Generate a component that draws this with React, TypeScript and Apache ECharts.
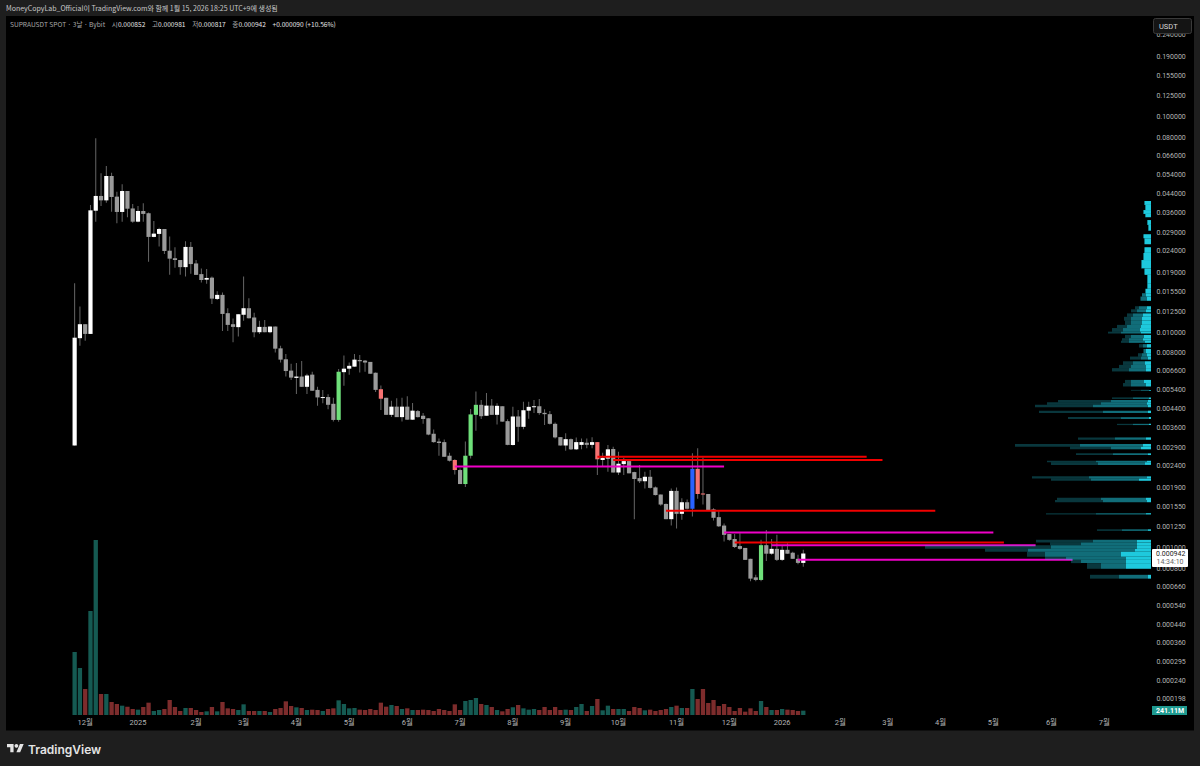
import * as echarts from "echarts"
import { type FC, useEffect, useRef } from "react"

const opens = [
  0.00299, 0.00942, 0.01094, 0.00986, 0.03682, 0.04312, 0.04113, 0.05339, 0.0428, 0.03633,
  0.04545, 0.03772, 0.03275, 0.0367, 0.03584, 0.02782, 0.02873, 0.03028, 0.02401, 0.02215,
  0.02173, 0.02014, 0.025, 0.02095, 0.01869, 0.01761, 0.018, 0.01433, 0.01497, 0.01231,
  0.01094, 0.0106, 0.0121, 0.01298, 0.01175, 0.01004, 0.01063, 0.01004, 0.01067, 0.00845,
  0.00752, 0.00666, 0.00616, 0.00625, 0.0056, 0.00638, 0.00542, 0.00498, 0.00502, 0.00467,
  0.00393, 0.00655, 0.0068, 0.00695, 0.00746, 0.00741, 0.00731, 0.00651, 0.00546, 0.00498,
  0.00415, 0.00453, 0.00405, 0.00453, 0.00394, 0.00432, 0.00411, 0.004, 0.00339, 0.00312,
  0.0031, 0.00268, 0.00256, 0.0023, 0.00198, 0.00268, 0.00415, 0.00462, 0.00411, 0.00458,
  0.00415, 0.00455, 0.00388, 0.00301, 0.00408, 0.00365, 0.00434, 0.00452, 0.00455, 0.00424,
  0.00418, 0.00377, 0.00327, 0.00299, 0.0032, 0.00287, 0.00301, 0.00308, 0.00301, 0.0031,
  0.00256, 0.0026, 0.00288, 0.00224, 0.00245, 0.00253, 0.00225, 0.00211, 0.00204, 0.00214,
  0.00191, 0.00177, 0.0016, 0.00136, 0.00184, 0.00144, 0.00163, 0.00152, 0.00233, 0.00179,
  0.00178, 0.00151, 0.00139, 0.00127, 0.00116, 0.0011, 0.00102, 0.001, 0.00089, 0.00073,
  0.00071, 0.00103, 0.00094, 0.00099, 0.00088, 0.00098, 0.00095, 0.00089, 0.000852,
]

const closes = [
  0.00947, 0.01094, 0.00986, 0.03697, 0.04312, 0.04113, 0.05339, 0.04265, 0.03633, 0.04545,
  0.03762, 0.03275, 0.0367, 0.03558, 0.02782, 0.02882, 0.03028, 0.02394, 0.02205, 0.02173,
  0.02014, 0.025, 0.02081, 0.01854, 0.01755, 0.01794, 0.01438, 0.01497, 0.01221, 0.01086,
  0.01063, 0.01217, 0.01298, 0.01166, 0.01004, 0.01063, 0.01004, 0.01067, 0.00842, 0.00749,
  0.00663, 0.00618, 0.00625, 0.0056, 0.00632, 0.00537, 0.005, 0.00502, 0.00462, 0.00393,
  0.00658, 0.0068, 0.00701, 0.00749, 0.00736, 0.00726, 0.00644, 0.00542, 0.00493, 0.00415,
  0.00453, 0.00405, 0.00453, 0.00394, 0.00434, 0.00405, 0.00397, 0.00336, 0.0031, 0.00307,
  0.00265, 0.00254, 0.0023, 0.00198, 0.00268, 0.00417, 0.00462, 0.00409, 0.00458, 0.00415,
  0.00457, 0.00386, 0.00301, 0.00408, 0.00365, 0.00436, 0.00452, 0.00455, 0.00423, 0.00418,
  0.00377, 0.00326, 0.00299, 0.0032, 0.00287, 0.0031, 0.0031, 0.00301, 0.0031, 0.00258,
  0.00262, 0.00287, 0.00224, 0.00246, 0.00253, 0.00222, 0.00209, 0.00204, 0.00214, 0.0019,
  0.00176, 0.00159, 0.00136, 0.00184, 0.00144, 0.00163, 0.00152, 0.00233, 0.00178, 0.00177,
  0.0015, 0.00138, 0.00126, 0.00115, 0.00109, 0.00101, 0.00099, 0.00088, 0.00072, 0.00071,
  0.00103, 0.00094, 0.00099, 0.00088, 0.00098, 0.00094, 0.00089, 0.000852, 0.000942,
]

const highs = [
  0.01696, 0.01321, 0.01094, 0.03917, 0.0799, 0.05495, 0.05942, 0.05529, 0.04512, 0.04886,
  0.04545, 0.03959, 0.03875, 0.03988, 0.03608, 0.03298, 0.03072, 0.03028, 0.02791, 0.02492,
  0.02173, 0.02655, 0.02637, 0.02173, 0.01987, 0.01975, 0.0182, 0.01556, 0.01534, 0.01298,
  0.01164, 0.01217, 0.0182, 0.01445, 0.01238, 0.01136, 0.01144, 0.01067, 0.01067, 0.00868,
  0.00796, 0.00716, 0.00722, 0.00738, 0.00644, 0.00658, 0.0056, 0.00542, 0.00517, 0.00498,
  0.00677, 0.00782, 0.00726, 0.00796, 0.00787, 0.00746, 0.00731, 0.00652, 0.00568, 0.00498,
  0.00482, 0.00496, 0.00498, 0.00506, 0.00471, 0.00437, 0.00423, 0.004, 0.00355, 0.00322,
  0.00319, 0.00277, 0.00258, 0.00234, 0.00312, 0.00442, 0.00533, 0.00487, 0.00524, 0.00492,
  0.0047, 0.00455, 0.00396, 0.00453, 0.00437, 0.00478, 0.00478, 0.00487, 0.00492, 0.0044,
  0.00432, 0.00382, 0.00327, 0.00341, 0.00322, 0.00326, 0.00322, 0.00322, 0.00327, 0.0031,
  0.00277, 0.00301, 0.00295, 0.0028, 0.00262, 0.00256, 0.00226, 0.00243, 0.00226, 0.0023,
  0.00193, 0.00177, 0.00161, 0.00189, 0.00191, 0.0017, 0.00168, 0.00275, 0.0029, 0.00263,
  0.00178, 0.00153, 0.0015, 0.0013, 0.00116, 0.00116, 0.00117, 0.001, 0.00089, 0.00075,
  0.00109, 0.00121, 0.0011, 0.00115, 0.00102, 0.00105, 0.00096, 0.00093, 0.000981,
]

const lows = [
  0.00299, 0.00868, 0.00917, 0.00986, 0.03275, 0.03875, 0.04013, 0.03644, 0.0322, 0.03275,
  0.03434, 0.03241, 0.03254, 0.03275, 0.02136, 0.02772, 0.02508, 0.0232, 0.01854, 0.02,
  0.01854, 0.0182, 0.01874, 0.01854, 0.01707, 0.01684, 0.01359, 0.01417, 0.01018, 0.01018,
  0.00902, 0.00958, 0.01136, 0.01164, 0.00951, 0.00986, 0.01004, 0.00993, 0.00809, 0.00726,
  0.00625, 0.00603, 0.00518, 0.0056, 0.00518, 0.00537, 0.00457, 0.0047, 0.0044, 0.00386,
  0.00385, 0.00566, 0.00637, 0.00695, 0.00652, 0.00658, 0.00644, 0.0053, 0.00437, 0.00415,
  0.00405, 0.00405, 0.00386, 0.00394, 0.00393, 0.00403, 0.00377, 0.00334, 0.00308, 0.00268,
  0.00265, 0.00252, 0.00219, 0.00198, 0.00192, 0.0026, 0.0035, 0.00397, 0.00411, 0.00415,
  0.00374, 0.00385, 0.003, 0.00299, 0.00311, 0.00356, 0.00398, 0.00423, 0.00415, 0.00372,
  0.00374, 0.00322, 0.00299, 0.00283, 0.00285, 0.00285, 0.00287, 0.0029, 0.0029, 0.00218,
  0.0024, 0.00226, 0.00224, 0.00218, 0.00218, 0.00222, 0.00136, 0.002, 0.00189, 0.00189,
  0.00175, 0.00157, 0.00136, 0.00127, 0.00123, 0.00135, 0.00151, 0.0014, 0.00169, 0.00159,
  0.0015, 0.00134, 0.00125, 0.00107, 0.00108, 0.001, 0.00098, 0.00088, 0.0007, 0.0007,
  0.0007, 0.00087, 0.00093, 0.00087, 0.00087, 0.00094, 0.00089, 0.00084, 0.000817,
]

// 거래량, 단위 M
const volumes = [
  3506, 2616, 1447, 5788, 9739, 1169, 1169, 723, 612, 519,
  464, 334, 297, 445, 686, 223, 278, 334, 835, 445,
  223, 390, 390, 278, 167, 204, 445, 204, 723, 371,
  334, 278, 594, 223, 223, 223, 223, 167, 334, 390,
  761, 501, 427, 390, 278, 297, 278, 223, 334, 371,
  816, 612, 371, 390, 297, 278, 334, 278, 686, 464,
  557, 501, 334, 371, 278, 278, 297, 278, 223, 334,
  278, 223, 594, 278, 779, 835, 946, 612, 557, 445,
  278, 204, 334, 427, 557, 371, 297, 334, 278, 445,
  278, 445, 278, 297, 278, 445, 612, 223, 501, 890,
  260, 519, 334, 334, 334, 223, 445, 390, 260, 297,
  223, 278, 334, 445, 519, 390, 390, 1447, 890, 1447,
  668, 835, 501, 612, 445, 223, 390, 186, 371, 223,
  779, 445, 278, 278, 334, 297, 278, 223, 241.11,
]

const greenCandles = [50, 74, 75, 76, 130]
const salmonCandles = [58, 72, 99, 118, 119]
const blueCandles = [117]

// [시작 봉, 끝 봉, 가격]
const redLevels = [
  [99, 150, 0.00265],
  [102, 153, 0.00256],
  [112, 163, 0.00149],
  [125, 176, 0.00106],
]
const magentaLevels = [
  [72, 123, 0.00239],
  [123, 174, 0.00118],
  [132, 182, 0.00103],
  [137, 189, 0.00088],
]

// 매물대: [위 가격, 아래 가격, 전체, 중간, 밝은 부분]
const profileRows = [
  [0.04084, 0.03917, 7, 7, 6],
  [0.03917, 0.03708, 6, 6, 5.5],
  [0.03708, 0.03558, 8, 8, 7],
  [0.03558, 0.03434, 6, 6, 5.5],
  [0.03332, 0.03163, 4, 4, 3.5],
  [0.03163, 0.02973, 3, 3, 2.5],
  [0.02864, 0.02742, 8, 8, 7],
  [0.02742, 0.02572, 7, 7, 6],
  [0.02492, 0.02345, 7, 7, 6],
  [0.02345, 0.02173, 8, 8, 7],
  [0.02173, 0.01987, 10, 10, 9],
  [0.01987, 0.01854, 7, 7, 6],
  [0.01854, 0.01696, 4, 4, 3.5],
  [0.01696, 0.01598, 4, 4, 3.5],
  [0.01598, 0.01524, 6, 6, 5],
  [0.01524, 0.0147, 9, 9, 5],
  [0.0147, 0.01405, 11, 10, 4],
  [0.01326, 0.01283, 16, 12, 4],
  [0.01283, 0.01242, 20, 14, 5],
  [0.01228, 0.01184, 24, 18, 8],
  [0.01184, 0.01136, 27, 20, 9],
  [0.01136, 0.01086, 26, 20, 9],
  [0.01086, 0.0105, 34, 24, 10],
  [0.0105, 0.0101, 39, 28, 11],
  [0.0101, 0.0099, 43, 30, 10],
  [0.00976, 0.00942, 26, 20, 7],
  [0.00942, 0.00917, 29, 22, 8],
  [0.00917, 0.00896, 30, 22, 6],
  [0.00884, 0.00852, 12, 8, 4],
  [0.0084, 0.00802, 8, 7, 5],
  [0.00802, 0.00774, 13, 9, 4],
  [0.00774, 0.00749, 21, 10, 3],
  [0.00736, 0.00708, 28, 18, 6],
  [0.00708, 0.00684, 32, 20, 5],
  [0.00684, 0.0066, 39, 22, 5],
  [0.00603, 0.00583, 26, 20, 7],
  [0.00583, 0.00562, 28, 20, 5],
  [0.00542, 0.00537, 20, 10, 2],
  [0.005, 0.00492, 39, 18, 2],
  [0.00487, 0.00475, 93, 40, 3],
  [0.00475, 0.00462, 104, 50, 4],
  [0.00462, 0.0045, 116, 58, 3],
  [0.00434, 0.00423, 112, 48, 3],
  [0.00405, 0.00397, 83, 30, 2],
  [0.00377, 0.00372, 34, 18, 2],
  [0.00326, 0.00318, 73, 36, 5],
  [0.00304, 0.00295, 136, 71, 8],
  [0.00295, 0.00287, 81, 40, 10],
  [0.00275, 0.0027, 75, 38, 3],
  [0.00254, 0.0025, 104, 55, 4],
  [0.0025, 0.00243, 100, 53, 6],
  [0.00215, 0.0021, 119, 62, 4],
  [0.0021, 0.00205, 100, 60, 12],
  [0.00171, 0.00167, 94, 50, 5],
  [0.00167, 0.00163, 96, 48, 4],
  [0.00145, 0.00143, 105, 55, 5],
  [0.00122, 0.0012, 54, 29, 3],
  [0.00109, 0.00106, 115, 58, 14],
  [0.00106, 0.00103, 101, 70, 14],
  [0.00103, 0.00099, 226, 100, 14],
  [0.00099, 0.00096, 166, 123, 16],
  [0.00096, 0.00091, 124, 106, 30],
  [0.00091, 0.00088, 106, 85, 25],
  [0.00088, 0.00085, 80, 70, 25],
  [0.00085, 0.0008, 64, 50, 25],
  [0.00075, 0.00072, 61, 32, 3],
]

const priceTicks = [
  0.24, 0.19, 0.155, 0.125, 0.1, 0.08, 0.066, 0.054, 0.044, 0.036, 0.029, 0.024, 0.019, 0.0155,
  0.0125, 0.01, 0.008, 0.0066, 0.0054, 0.0044, 0.0036, 0.0029, 0.0024, 0.0019, 0.00155, 0.00125,
  0.001, 0.0008, 0.00066, 0.00054, 0.00044, 0.00036, 0.000295, 0.00024, 0.000198,
]

const timeTickBars = [2, 12, 23, 32, 42, 52, 63, 73, 83, 93, 103, 114, 124, 134, 145, 154, 164, 174, 185, 195]
const timeTickLabels = [
  "12월", "2025", "2월", "3월", "4월", "5월", "6월", "7월", "8월", "9월", "10월", "11월", "12월",
  "2026", "2월", "3월", "4월", "5월", "6월", "7월",
]

// 3일봉, 오른쪽 빈 공간까지 포함
const barCount = 205
const categories = Array.from({ length: barCount }, (_, i) =>
  new Date(Date.UTC(2024, 10, 26) + i * 3 * 86400000).toISOString().slice(0, 10),
)

const FONT = "Roboto, 'Noto Sans CJK KR', sans-serif"
const KR_FONT = "'Noto Sans CJK KR', sans-serif"
const PANEL = "#1e1e1e"

const candleColor = (i: number) => {
  if (greenCandles.includes(i)) return "#6fe07a"
  if (salmonCandles.includes(i)) return "#f77272"
  if (blueCandles.includes(i)) return "#2962ff"
  return closes[i] >= opens[i] ? "#ffffff" : "#9a9a9a"
}

echarts.graphic.registerShape(
  "tvLogo",
  echarts.graphic.extendPath("M14 22H7V11H0V4h14v18zM28 22h-8l7.5-18h8L28 22z", {}),
)

const renderCandle = (params: any, api: any) => {
  const i = api.value(0)
  const open = api.coord([i, api.value(1)])
  const high = api.coord([i, api.value(2)])
  const low = api.coord([i, api.value(3)])
  const close = api.coord([i, api.value(4)])
  const top = Math.min(open[1], close[1])
  const height = Math.max(Math.abs(open[1] - close[1]), 1)
  return {
    type: "group",
    children: [
      {
        type: "rect",
        shape: { x: high[0] - 0.5, y: high[1], width: 1, height: low[1] - high[1] },
        style: { fill: "#666666" },
      },
      {
        type: "rect",
        shape: { x: open[0] - 2.1, y: top, width: 4.2, height },
        style: { fill: candleColor(params.dataIndex) },
      },
    ],
  }
}

// 겹치지 않게 세 구간으로 나눠 그린다. 수평선이 반투명하게 비쳐 보인다
const renderProfile = (_params: any, api: any) => {
  const topPrice = api.value(0)
  const bottomPrice = api.value(1)
  const segment = (from: number, to: number, fill: string) => {
    const a = api.coord([to, topPrice])
    const b = api.coord([from, bottomPrice])
    return {
      type: "rect",
      shape: { x: a[0], y: a[1], width: b[0] - a[0], height: b[1] - a[1] },
      style: { fill },
    }
  }
  return {
    type: "group",
    children: [
      segment(api.value(3), api.value(2), "rgba(31,199,220,0.28)"),
      segment(api.value(4), api.value(3), "rgba(31,199,220,0.55)"),
      segment(0, api.value(4), "rgba(31,205,225,0.98)"),
    ],
  }
}

const levelSeries = (levels: number[][], color: string) =>
  levels.map(([start, end, price]) => ({
    type: "line",
    xAxisIndex: 0,
    yAxisIndex: 0,
    symbol: "none",
    silent: true,
    z: 4,
    lineStyle: { color, width: 2 },
    data: [
      [start, price],
      [end, price],
    ],
  }))

export const SupraChart: FC = () => {
  const chartRef = useRef<HTMLDivElement>(null)

  useEffect(() => {
    if (!chartRef.current) return
    const chart = echarts.init(chartRef.current, null, { renderer: "svg" })

    const option: any = {
      animation: false,
      backgroundColor: PANEL,
      textStyle: { fontFamily: FONT },
      grid: { left: 72, top: 16, width: 1082.4, height: 699 },
      xAxis: [
        {
          type: "category",
          data: categories,
          axisLine: { show: false },
          axisTick: { show: false },
          splitLine: { show: false },
          axisLabel: {
            color: "#b4b4b4",
            fontSize: 7.5,
            fontFamily: FONT,
            margin: 4,
            hideOverlap: false,
            interval: (index: number) => timeTickBars.includes(index),
            formatter: (_value: string, index: number) => timeTickLabels[timeTickBars.indexOf(index)] ?? "",
          },
        },
        // 매물대 길이용, 오른쪽이 0
        { type: "value", show: false, inverse: true, min: -3.4, max: 1079, splitLine: { show: false } },
      ],
      yAxis: [
        {
          type: "log",
          position: "right",
          min: 0.0001675,
          max: 0.2954,
          axisLine: { show: false },
          axisTick: { show: false },
          splitLine: { show: false },
          axisLabel: {
            color: "#b4b4b4",
            fontSize: 7,
            fontFamily: FONT,
            margin: 2,
            customValues: priceTicks,
            showMinLabel: true,
            showMaxLabel: true,
            formatter: (value: number) => Number(value).toFixed(6),
          },
        },
        { type: "value", show: false, min: 0, max: 38900, splitLine: { show: false } },
      ],
      series: [
        {
          type: "bar",
          xAxisIndex: 0,
          yAxisIndex: 1,
          barWidth: 4.3,
          silent: true,
          z: 1,
          data: volumes.map((value, i) => ({
            value,
            itemStyle: { color: closes[i] >= opens[i] ? "#155a52" : "#7d2c2c" },
          })),
        },
        ...levelSeries(redLevels, "#f20000"),
        ...levelSeries(magentaLevels, "#f000c8"),
        {
          type: "custom",
          xAxisIndex: 1,
          yAxisIndex: 0,
          silent: true,
          clip: false,
          z: 5,
          renderItem: renderProfile,
          encode: { x: 2, y: 0 },
          data: profileRows,
        },
        {
          type: "custom",
          xAxisIndex: 0,
          yAxisIndex: 0,
          silent: true,
          z: 3,
          renderItem: renderCandle,
          encode: { x: 0, y: [1, 2, 3, 4] },
          data: opens.map((open, i) => [i, open, highs[i], lows[i], closes[i]]),
        },
      ],
      graphic: [
        { type: "rect", z: -1, silent: true, shape: { x: 6, y: 16, width: 1188, height: 714.5 }, style: { fill: "#000000" } },
        {
          type: "text",
          z: 10,
          x: 6,
          y: 8,
          style: {
            text: "MoneyCopyLab_Official이 TradingView.com와 함께 1월 15, 2026 18:25 UTC+9에 생성됨",
            fill: "#c8c8c8",
            font: `7px ${KR_FONT}`,
            verticalAlign: "middle",
          },
        },
        {
          type: "text",
          z: 10,
          x: 10,
          y: 24,
          style: {
            text: "{g|SUPRAUSDT SPOT · 3날 · Bybit}  {g|시}{w|0.000852}  {g|고}{w|0.000981}  {g|저}{w|0.000817}  {g|종}{w|0.000942}  {w|+0.000090 (+10.56%)}",
            verticalAlign: "middle",
            rich: {
              g: { fill: "#a8a8a8", font: `6.6px ${KR_FONT}` },
              w: { fill: "#e6e6e6", font: `6.6px ${KR_FONT}` },
            },
          },
        },
        // USDT 버튼
        {
          type: "rect",
          z: 10,
          shape: { x: 1153.5, y: 18.5, width: 38, height: 15, r: 2 },
          style: { fill: "#141414", stroke: "#3a3a3a", lineWidth: 1 },
        },
        {
          type: "text",
          z: 11,
          x: 1159,
          y: 26,
          style: { text: "USDT", fill: "#d8d8d8", font: `7.5px ${FONT}`, verticalAlign: "middle" },
        },
        // 현재가 배지
        {
          type: "rect",
          z: 10,
          shape: { x: 1152, y: 549, width: 36, height: 18, r: 1 },
          style: { fill: "#ffffff" },
        },
        {
          type: "text",
          z: 11,
          x: 1156,
          y: 553.5,
          style: { text: "0.000942", fill: "#222222", font: `7px ${FONT}`, verticalAlign: "middle" },
        },
        {
          type: "text",
          z: 11,
          x: 1156.5,
          y: 562,
          style: { text: "14:34:10", fill: "#666666", font: `7px ${FONT}`, verticalAlign: "middle" },
        },
        // 거래량 배지
        {
          type: "rect",
          z: 10,
          shape: { x: 1152, y: 706, width: 35, height: 9 },
          style: { fill: "#1f9a90" },
        },
        {
          type: "text",
          z: 11,
          x: 1156,
          y: 710.5,
          style: { text: "241.11M", fill: "#ffffff", font: `bold 7px ${FONT}`, verticalAlign: "middle" },
        },
        // 푸터 로고
        {
          type: "tvLogo",
          z: 10,
          x: 7,
          y: 742,
          scaleX: 0.47,
          scaleY: 0.47,
          style: { fill: "#e4e4e4" },
        },
        { type: "circle", z: 10, shape: { cx: 16.4, cy: 745.8, r: 1.9 }, style: { fill: "#e4e4e4" } },
        {
          type: "text",
          z: 10,
          x: 28,
          y: 749,
          style: { text: "TradingView", fill: "#e4e4e4", font: "600 12px Inter, sans-serif", verticalAlign: "middle" },
        },
      ],
    }

    chart.setOption(option)

    return () => {
      chart.dispose()
    }
  }, [])

  return <div ref={chartRef} style={{ position: "absolute", left: 0, top: 0, width: 1200, height: 766 }} />
}

export default function App() {
  return <SupraChart />
}
